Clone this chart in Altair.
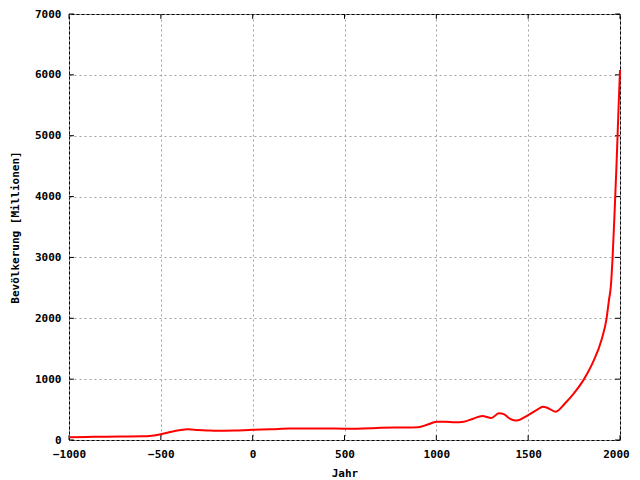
import altair as alt
import pandas as pd

years = [-1000, -900, -800, -700, -600, -550, -500, -450, -400, -350, -300, -250, -200, -100,
         0, 100, 200, 300, 400, 500, 600, 700, 800, 900, 950, 1000, 1050, 1100, 1150, 1200,
         1250, 1300, 1340, 1370, 1400, 1430, 1450, 1500, 1550, 1580, 1600, 1650, 1700, 1750,
         1800, 1850, 1900, 1927, 1940, 1950, 1960, 1970, 1975, 1980, 1985, 1990, 1995, 2000]
population = [45, 50, 55, 57, 60, 70, 95, 130, 160, 175, 165, 158, 150, 155,
              168, 175, 190, 190, 190, 185, 190, 200, 205, 210, 250, 300, 300, 290, 300, 350,
              395, 360, 440, 420, 350, 320, 330, 410, 500, 545, 535, 465, 600, 770,
              980, 1260, 1650, 2000, 2300, 2520, 3020, 3700, 4070, 4440, 4850, 5280, 5690, 6080]

x_ticks = [-1000, -500, 0, 500, 1000, 1500, 2000]
y_ticks = [0, 1000, 2000, 3000, 4000, 5000, 6000, 7000]

df = pd.DataFrame({"Jahr": years, "Bev": population})
xt = pd.DataFrame({"t": x_ticks, "y0": 0, "y1": 80, "y2": 6920, "y3": 7000})
yt = pd.DataFrame({"t": y_ticks, "x0": -1000, "x1": -973, "x2": 1973, "x3": 2000})

FONT = "DejaVu Sans Mono"
xscale = alt.Scale(domain=[-1000, 2000], nice=False, zero=False)
yscale = alt.Scale(domain=[0, 7000], nice=False)

line = alt.Chart(df).mark_line(color="#ff0000", strokeWidth=2, interpolate="monotone").encode(
    x=alt.X("Jahr:Q", scale=xscale,
            axis=alt.Axis(values=x_ticks, format="d", title="Jahr", grid=True, ticks=False,
                          domain=False, labelPadding=8, titlePadding=8, labelFlush=False,
                          labelOffset={"condition": {"test": "datum.value == 2000", "value": -4},
                                       "value": 0})),
    y=alt.Y("Bev:Q", scale=yscale,
            axis=alt.Axis(values=y_ticks, format="d", title="Bevölkerung [Millionen]", grid=True,
                          ticks=False, domain=False, labelPadding=8, titlePadding=14,
                          labelFlush=False)),
)

tb = alt.Chart(xt).mark_rule(color="black", strokeWidth=1).encode(x="t:Q", y="y0:Q", y2="y1:Q")
tt = alt.Chart(xt).mark_rule(color="black", strokeWidth=1).encode(x="t:Q", y="y2:Q", y2="y3:Q")
tl = alt.Chart(yt).mark_rule(color="black", strokeWidth=1).encode(y="t:Q", x="x0:Q", x2="x1:Q")
tr = alt.Chart(yt).mark_rule(color="black", strokeWidth=1).encode(y="t:Q", x="x2:Q", x2="x3:Q")

chart = alt.layer(tb, tt, tl, tr, line).properties(
    width=551, height=426,
    autosize=alt.AutoSizeParams(type="none"),
    padding={"left": 61, "top": 6, "right": 12, "bottom": 40},
    background="white",
).configure_view(
    stroke="black", strokeWidth=1
).configure_axis(
    labelFont=FONT, labelFontSize=11, labelFontWeight="bold", labelColor="black",
    titleFont=FONT, titleFontSize=11, titleFontWeight="bold", titleColor="black",
    gridColor="#a0a0a0", gridDash=[2, 3], gridWidth=1, gridOpacity=1,
)

chart.save("out.html", embed_options={"renderer": "svg", "actions": False})
